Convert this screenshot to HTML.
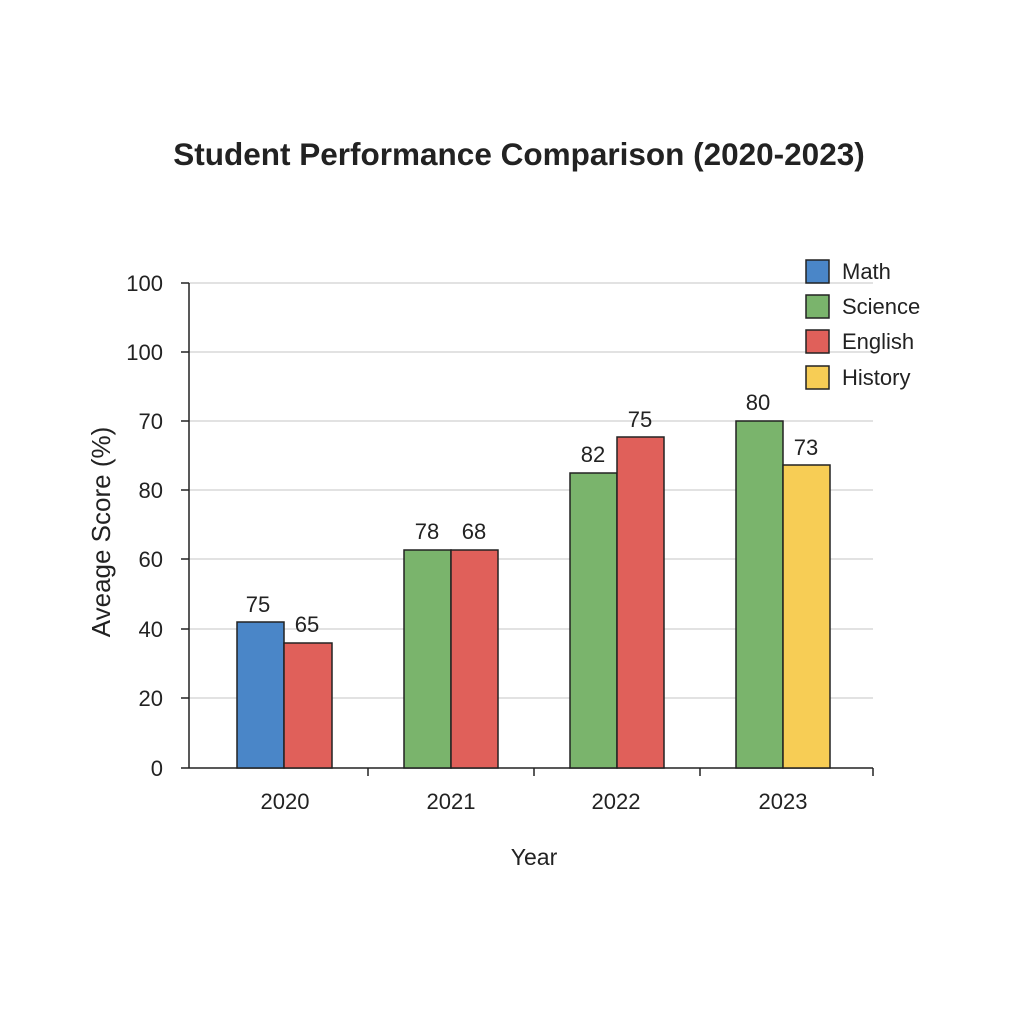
<!DOCTYPE html>
<html><head><meta charset="utf-8"><style>body{margin:0;background:#fff}</style></head><body>
<svg width="1024" height="1024" xmlns="http://www.w3.org/2000/svg" font-family="Liberation Sans, sans-serif">
<rect width="1024" height="1024" fill="#fff"/>
<text x="519" y="165" text-anchor="middle" font-size="31.5" font-weight="bold" fill="#222">Student Performance Comparison (2020-2023)</text>
<g stroke="#d0d0d0" stroke-width="1.2">
<line x1="189" y1="283" x2="873" y2="283"/><line x1="189" y1="352" x2="873" y2="352"/>
<line x1="189" y1="421" x2="873" y2="421"/><line x1="189" y1="490" x2="873" y2="490"/>
<line x1="189" y1="559" x2="873" y2="559"/><line x1="189" y1="629" x2="873" y2="629"/>
<line x1="189" y1="698" x2="873" y2="698"/>
</g>
<g stroke="#222" stroke-width="1.5">
<line x1="189" y1="283" x2="189" y2="768"/><line x1="181" y1="768" x2="873" y2="768"/>
<line x1="181" y1="283" x2="189" y2="283"/><line x1="181" y1="352" x2="189" y2="352"/>
<line x1="181" y1="421" x2="189" y2="421"/><line x1="181" y1="490" x2="189" y2="490"/>
<line x1="181" y1="559" x2="189" y2="559"/><line x1="181" y1="629" x2="189" y2="629"/>
<line x1="181" y1="698" x2="189" y2="698"/>
<line x1="368" y1="768" x2="368" y2="776"/><line x1="534" y1="768" x2="534" y2="776"/>
<line x1="700" y1="768" x2="700" y2="776"/><line x1="873" y1="768" x2="873" y2="776"/>
</g>
<g font-size="22" fill="#222" text-anchor="end">
<text x="163" y="291">100</text><text x="163" y="360">100</text><text x="163" y="429">70</text>
<text x="163" y="498">80</text><text x="163" y="567">60</text><text x="163" y="637">40</text>
<text x="163" y="706">20</text><text x="163" y="776">0</text>
</g>
<g stroke="#222" stroke-width="1.5">
<rect x="237" y="622" width="47" height="146" fill="#4a86c8"/>
<rect x="284" y="643" width="48" height="125" fill="#e0605a"/>
<rect x="404" y="550" width="47" height="218" fill="#7ab46c"/>
<rect x="451" y="550" width="47" height="218" fill="#e0605a"/>
<rect x="570" y="473" width="47" height="295" fill="#7ab46c"/>
<rect x="617" y="437" width="47" height="331" fill="#e0605a"/>
<rect x="736" y="421" width="47" height="347" fill="#7ab46c"/>
<rect x="783" y="465" width="47" height="303" fill="#f7cd55"/>
</g>
<g font-size="22" fill="#222" text-anchor="middle">
<text x="258" y="612">75</text><text x="307" y="632">65</text>
<text x="427" y="539">78</text><text x="474" y="539">68</text>
<text x="593" y="462">82</text><text x="640" y="427">75</text>
<text x="758" y="410">80</text><text x="806" y="455">73</text>
<text x="285" y="809">2020</text><text x="451" y="809">2021</text>
<text x="616" y="809">2022</text><text x="783" y="809">2023</text>
<text x="534" y="865" font-size="23">Year</text>
<text transform="translate(110,532) rotate(-90)" font-size="26">Aveage Score (%)</text>
</g>
<g stroke="#222" stroke-width="1.5">
<rect x="806" y="260" width="23" height="23" fill="#4a86c8"/>
<rect x="806" y="295" width="23" height="23" fill="#7ab46c"/>
<rect x="806" y="330" width="23" height="23" fill="#e0605a"/>
<rect x="806" y="366" width="23" height="23" fill="#f7cd55"/>
</g>
<g font-size="22" fill="#222">
<text x="842" y="279">Math</text><text x="842" y="314">Science</text>
<text x="842" y="349">English</text><text x="842" y="385">History</text>
</g>
</svg>
</body></html>
